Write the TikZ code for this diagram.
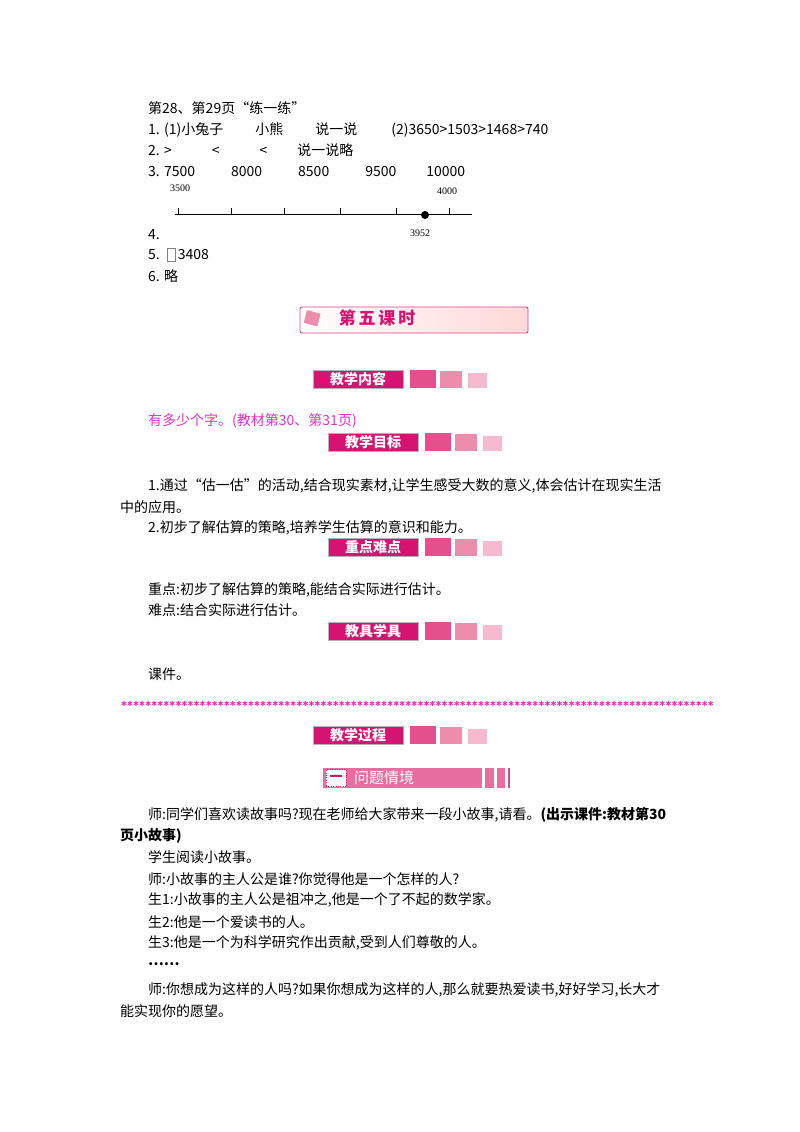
\documentclass[tikz,border=0pt]{standalone}
\usepackage{fontspec}
\setmainfont{Noto Sans CJK SC}
\newfontfamily\latf{Carlito}
\newfontfamily\serf{Liberation Serif}
\newfontfamily\djv{DejaVu Sans}
\definecolor{hdr}{RGB}{212,20,112}
\definecolor{sqa}{RGB}{228,80,140}
\definecolor{sqb}{RGB}{238,140,172}
\definecolor{sqc}{RGB}{246,186,206}
\definecolor{pinktxt}{RGB}{225,50,200}
\definecolor{bar}{RGB}{232,110,160}
\begin{document}
\begin{tikzpicture}[x=1pt,y=-1pt,
  t/.style={anchor=west,inner sep=0,font=\fontsize{14}{16}\selectfont},
  sm/.style={anchor=center,inner sep=0,font=\serf\fontsize{10}{12}\selectfont},
  hbox/.style={fill=hdr,draw=gray!60,line width=0.6pt,text=white,font=\bfseries\fontsize{14}{15}\selectfont,inner sep=0,minimum width=90pt,minimum height=18pt}]
\useasboundingbox (0,0) rectangle (800,1132);
\fill[white] (0,0) rectangle (800,1132);
\node[t] (l0) at (148,108) {第28、第29页“练一练”};
\node[t] (l1) at (148,130) {1. (1)小兔子\hspace{32pt}小熊\hspace{32pt}说一说\hspace{34pt}(2)3650>1503>1468>740};
\node[t] (l2) at (148,150) {2. >\hspace{40pt}<\hspace{40pt}<\hspace{30pt}说一说略};
\node[t] (l3) at (148,172) {3. 7500\hspace{36pt}8000\hspace{36pt}8500\hspace{36pt}9500\hspace{30pt}10000};
\node[sm] (n35) at (180,188) {3500};
\node[sm] (n40) at (447,191) {4000};
\coordinate (a0) at (175,214); \coordinate (a1) at (472,214);
\draw[line width=0.6pt] (a0) -- (a1);
\foreach \x in {178,231,284,340,396,449} \draw[line width=0.6pt] (\x,214) -- (\x,208);
\node[circle,fill=black,inner sep=0,minimum size=8pt] (dot) at (425,215) {};
\node[sm] (n39) at (420,233) {3952};
\node[t] (l4) at (148,235) {4.};
\node[t] (l5) at (148,255) {5.\ \ \ \ \ \,3408};
\node[draw=gray,line width=0.8pt,minimum width=8pt,minimum height=13pt,inner sep=0] (bx) at (171,255) {};
\node[t] (l6) at (148,276) {6. 略};
% banner
\shade[left color=white,right color=pink!60,rounded corners=2pt] (300,307) rectangle (528,333);
\draw[hdr!80,line width=0.9pt,rounded corners=2pt] (300,307) rectangle (528,333);
\fill[sqb,rotate around={-15:(313,319)}] (305,312) rectangle (319,325);
\node[text=hdr,font=\bfseries\fontsize{17}{18}\selectfont,inner sep=0] (ban) at (377,318) {第\,五\,课\,时};
% headers
\newcommand{\hdrbox}[4]{%
  \node[hbox] (#4) at (#1+45,#2+9) {#3};
  \fill[sqa] (#1+97,#2) rectangle ++(26,18);
  \fill[sqb] (#1+127,#2+1) rectangle ++(22,17);
  \fill[sqc] (#1+155,#2+3) rectangle ++(19,15);}
\hdrbox{313}{370}{教学内容}{h1}
\node[t,text=pinktxt] (l7) at (148,421) {有多少个字。(教材第30、第31页)};
\hdrbox{328}{433}{教学目标}{h2}
\node[t] (p1) at (148,486) {1.通过“估一估”的活动,结合现实素材,让学生感受大数的意义,体会估计在现实生活};
\node[t] (p1b) at (120,507) {中的应用。};
\node[t] (p2) at (148,528) {2.初步了解估算的策略,培养学生估算的意识和能力。};
\hdrbox{328}{538}{重点难点}{h3}
\node[t] (p3) at (148,590) {重点:初步了解估算的策略,能结合实际进行估计。};
\node[t] (p4) at (148,610) {难点:结合实际进行估计。};
\hdrbox{328}{622}{教具学具}{h4}
\node[t] (p5) at (148,674) {课件。};
\foreach \i in {0,...,97} \node[text=pinktxt,inner sep=0,font=\djv\fontsize{7}{7}\selectfont] at (124+\i*6.05,704) {✱};
\hdrbox{313}{726}{教学过程}{h5}
% section bar
\fill[bar] (323,768) rectangle (482,788);
\fill[bar] (485,768) rectangle (494,788);
\fill[bar] (497,768) rectangle (505,788);
\fill[bar!80!black] (508,768) rectangle (510,788);
\node[draw=hdr,dotted,fill=white,minimum width=20pt,minimum height=17pt,inner sep=0,font=\bfseries\fontsize{13}{14}\selectfont,text=hdr] (one) at (336,778) {一};
\node[t,text=white,font=\fontsize{15}{16}\selectfont] (wt) at (354,778) {问题情境};
\node[t] (q1) at (148,815) {师:同学们喜欢读故事吗?现在老师给大家带来一段小故事,请看。\textbf{(出示课件:教材第30}};
\node[t] (q1b) at (120,836) {\textbf{页小故事)}};
\node[t] (q2) at (148,857) {学生阅读小故事。};
\node[t] (q3) at (148,879) {师:小故事的主人公是谁?你觉得他是一个怎样的人?};
\node[t] (q4) at (148,900) {生1:小故事的主人公是祖冲之,他是一个了不起的数学家。};
\node[t] (q5) at (148,922) {生2:他是一个爱读书的人。};
\node[t] (q6) at (148,943) {生3:他是一个为科学研究作出贡献,受到人们尊敬的人。};
\node[t] (q7) at (148,964) {\textbf{……}};
\node[t] (q8) at (148,990) {师:你想成为这样的人吗?如果你想成为这样的人,那么就要热爱读书,好好学习,长大才};
\node[t] (q8b) at (120,1011) {能实现你的愿望。};
\end{tikzpicture}
\end{document}
